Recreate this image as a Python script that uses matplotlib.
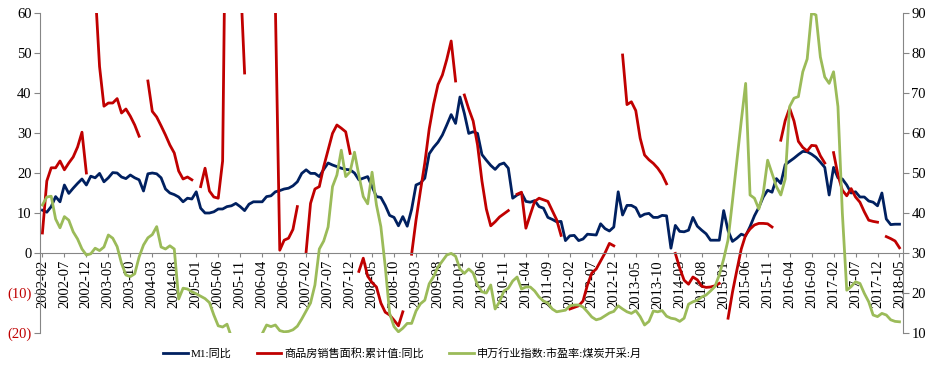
import numpy as np
import pandas as pd
import matplotlib
matplotlib.use("Agg")
import matplotlib.pyplot as plt

plt.rcParams['font.family'] = ['Liberation Serif', 'Noto Sans CJK SC']

nan = np.nan
# monthly, 2002-02 .. 2018-05
months = pd.period_range('2002-02', '2018-05', freq='M').strftime('%Y-%m').tolist()

m1 = [10.7, 10.2, 11.6, 14.1, 12.8, 17.0, 14.9, 16.2, 17.4, 18.5, 17.0,
      19.2, 18.8, 19.9, 17.8, 18.8, 20.1, 20.0, 19.0, 18.6, 19.5, 18.8, 18.3,
      15.5, 19.8, 20.0, 19.8, 18.8, 16.0, 15.0, 14.6, 14.0, 12.8, 13.7, 13.5,
      15.3, 11.2, 10.0, 10.0, 10.3, 11.0, 11.0, 11.6, 11.8, 12.4, 11.6, 10.6,
      12.2, 12.8, 12.8, 12.8, 14.1, 14.3, 15.3, 15.6, 16.0, 16.2, 16.8, 17.8,
      19.9, 20.8, 19.9, 19.9, 19.1, 20.9, 22.5, 22.0, 21.6, 21.2, 20.9, 20.8,
      20.0, 18.3, 18.7, 19.1, 16.6, 14.1, 13.9, 11.9, 9.4, 8.9, 6.8, 9.1,
      6.7, 10.9, 17.0, 17.5, 18.7, 24.8, 26.4, 27.7, 29.5, 32.0, 34.6, 32.4,
      39.0, 34.9, 29.9, 30.3, 29.9, 24.6, 23.2, 21.9, 20.9, 22.1, 22.5, 21.2,
      13.7, 14.5, 15.0, 12.9, 12.7, 13.1, 11.6, 11.2, 8.9, 8.4, 7.8, 7.9,
      3.1, 4.3, 4.4, 3.1, 3.5, 4.7, 4.6, 4.5, 7.3, 6.1, 5.5, 6.5,
      15.3, 9.5, 11.9, 11.9, 11.3, 9.1, 9.7, 9.9, 8.9, 8.9, 9.4, 9.3,
      1.2, 6.9, 5.4, 5.3, 5.7, 8.9, 6.7, 5.7, 4.8, 3.2, 3.2, 3.2,
      10.6, 5.6, 2.9, 3.7, 4.7, 4.3, 6.6, 9.3, 11.4, 14.0, 15.7, 15.2,
      18.6, 17.4, 22.1, 22.9, 23.7, 24.6, 25.4, 25.3, 24.7, 23.9, 22.7, 21.4,
      14.5, 21.4, 18.8, 18.5, 17.0, 15.0, 15.3, 14.0, 14.0, 13.0, 12.7, 11.8,
      15.0, 8.5, 7.1, 7.2, 7.2]

sales = [5, 18, 21.3, 21.3, 23, 20.8, 22.5, 24, 26.5, 30.2, 20,
         nan, 66, 46.6, 36.7, 37.5, 37.5, 38.6, 35, 36, 34.2, 32, 29.2,
         nan, 43, 35.4, 34, 31.8, 29.5, 27, 25, 20.5, 18.5, 19, 18.3,
         nan, 16.6, 21.2, 15.5, 14, 13.7, 23, 120, 150, 100, 70, 45,
         nan, 180, 160, 130, 100, 80, 62, 0.7, 3.2, 3.7, 5.9, 11.6,
         nan, 0.3, 12.4, 16, 16.6, 21.6, 25.8, 29.9, 32, 31.2, 30.3, 24.9,
         nan, -4.6, -1.3, -5.8, -7.4, -8.5, -12.5, -14.8, -15.5, -16.8, -18.2, -14.7,
         nan, -0.3, 8.2, 15.5, 22.5, 31.0, 37.2, 42.1, 44.5, 48.4, 53.0, 43.0,
         nan, 39.5, 36, 33, 27, 18, 11, 6.8, 7.8, 9.0, 9.8, 10.6,
         nan, 14.7, 15.2, 6.2, 9.6, 12.9, 13.7, 13.3, 12.9, 10.6, 8.3, 4.4,
         nan, -14, -13.6, -13.2, -12, -8, -5, -4, -2, 0, 2.4, 1.8,
         nan, 49.5, 37.1, 37.8, 35.6, 28.7, 24.5, 23.3, 22.4, 21.2, 19.6, 17.3,
         nan, -0.1, -3.8, -6.8, -7.8, -6.0, -6.7, -8.3, -8.6, -8.5, -8.2, -7.6,
         nan, -16.3, -9.8, -4.3, 1.0, 4.5, 6.0, 7.0, 7.4, 7.4, 7.3, 6.5,
         nan, 28.2, 33.1, 36.2, 33.0, 27.9, 26.4, 25.5, 26.9, 26.8, 24.3, 22.5,
         nan, 25.1, 19.5, 15.7, 14.3, 16.1, 14.0, 12.7, 10.3, 8.2, 7.9, 7.7,
         nan, 4.1, 3.6, 3.0, 1.3]

coal_pe = [42, 44, 44.2, 38.5, 36.3, 39.1, 38.2, 35.3, 33.5, 31, 29.5,
           29.8, 31.2, 30.6, 31.5, 34.5, 33.7, 31.6, 27.4, 24.5, 24.1, 24.8, 29,
           32, 33.8, 34.6, 36.6, 31.5, 31, 31.8, 31, 18.5, 21.2, 21, 20.3,
           19.8, 19.2, 18.6, 17.6, 14.5, 11.8, 11.5, 12.2, 9, 8, 7.5, 7,
           7.5, 8, 8.5, 9.8, 12, 11.6, 12, 10.6, 10.3, 10.4, 10.8, 11.7,
           13.5, 15.5, 17.5, 22, 31, 33, 36.5, 46.6, 49.5, 55.7, 49.1, 50.3,
           55.2, 49.4, 44.1, 42.3, 50.2, 42, 36.6, 26.6, 14.9, 11.6, 10.3, 11.2,
           12.4, 12.4, 15.5, 17.3, 18.2, 22.3, 24.1, 26.5, 28, 29.5, 29.9, 29.2,
           26, 24.9, 26, 25, 22, 20.3, 20, 22, 16, 17.8, 20.5, 21.2,
           23, 24, 21, 21.5, 21.5, 20.5, 19, 18, 17.5, 16, 15.3, 15.5,
           15.7, 16.8, 17, 17, 16.5, 15.3, 14, 13.3, 13.6, 14.3, 15, 15.4,
           16.8, 16, 15.3, 14.9, 15.6, 14.1, 12, 12.9, 15.5, 15.3, 15.6, 14.2,
           13.7, 13.5, 12.9, 13.7, 17.2, 17.8, 18.2, 19, 19.5, 20.5, 21.6, 24.5,
           28.5, 33.3, 43, 53, 63, 72.4, 44.5, 43.7, 41, 44.9, 53.2, 49.9,
           46.6, 44.5, 48.5, 66.6, 68.7, 69.1, 75.3, 78.5, 90, 89.5, 79, 74,
           72.4, 75.3, 66.6, 40, 20.7, 21.6, 22.8, 22.4, 19.9, 17.8, 14.5, 14.1,
           14.9, 14.5, 13.3, 12.9, 12.8]

names = ['M1:同比', '商品房销售面积:累计值:同比', '申万行业指数:市盈率:煤炭开采:月']
colors = ['#002060', '#C00000', '#9BBB59']
grey = '#868686'

x = np.arange(len(months))

fig = plt.figure(figsize=(9.36, 3.75), dpi=100)
ax = fig.add_axes([40/936, 42/375, 863/936, 320/375])
ax2 = ax.twinx()

l1, = ax.plot(x, m1, color=colors[0], lw=2.0)
l2, = ax.plot(x, sales, color=colors[1], lw=2.0)
l3, = ax2.plot(x, coal_pe, color=colors[2], lw=2.0)

ax.set_xlim(-0.55, 195.8)
ax.set_ylim(-20, 60)
ax2.set_ylim(10, 90)

# left axis, negatives shown in red brackets
lticks = list(range(-20, 61, 10))
ax.set_yticks(lticks)
ax.set_yticklabels([f'({-v})' if v < 0 else str(v) for v in lticks])
for lab, v in zip(ax.get_yticklabels(), lticks):
    lab.set_color(colors[1] if v < 0 else 'black')
ax.tick_params(axis='y', direction='out', length=4, color=grey, labelsize=10.5, pad=2)

# category axis sits on zero line
ax.spines['bottom'].set_position(('data', 0))
ax.set_xticks(x[::5])
ax.set_xticklabels(months[::5], rotation=90)
ax.tick_params(axis='x', direction='out', length=3, color=grey, labelsize=10.5, pad=2)

for sp in ['left', 'bottom']:
    ax.spines[sp].set_color(grey)
ax.spines['top'].set_visible(False)
ax.spines['right'].set_visible(False)

ax2.set_yticks(range(10, 91, 10))
ax2.tick_params(axis='y', direction='out', length=4, color=grey, labelsize=10.5, pad=2)
for sp in ['left', 'bottom', 'top']:
    ax2.spines[sp].set_visible(False)
ax2.spines['right'].set_color(grey)

fig.legend([l1, l2, l3], names, loc='center', bbox_to_anchor=(0.43, 0.058),
           ncol=3, frameon=False, handlelength=2.2, columnspacing=2.3,
           handletextpad=0.25, prop={'size': 8})

fig.savefig('out.png', dpi=100)
